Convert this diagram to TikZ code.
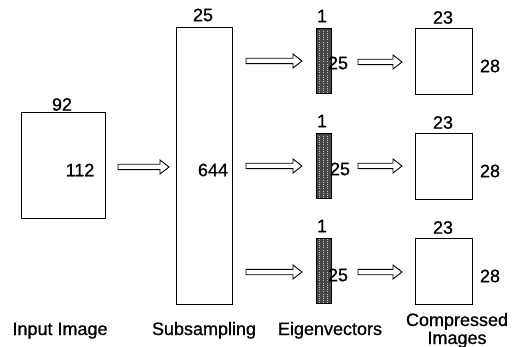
\documentclass[tikz,border=0pt]{standalone}
\usepackage{fontspec}
\setmainfont{Liberation Sans}[BoldFont=Liberation Sans, BoldFeatures={FakeBold=0.8}]
\usetikzlibrary{calc}
\begin{document}
\begin{tikzpicture}[x=1pt,y=-1pt,
  box/.style={draw, line width=1pt, inner sep=0pt, anchor=north west},
  bar/.style={box, fill=black!72,
    path picture={\foreach \dx in {-4,0,4}
      \draw[black!25, line width=0.9pt, dash pattern=on 1pt off 1.2pt]
        ([xshift=\dx pt]path picture bounding box.north) -- ([xshift=\dx pt]path picture bounding box.south);}},
  num/.style={font=\fontsize{18}{20}\selectfont\bfseries, inner sep=0pt},
  lbl/.style={font=\fontsize{18}{20}\selectfont\bfseries, inner sep=0pt, anchor=base},
  hollow/.style={line width=0.9pt, line join=miter,
    to path={let \p1=(\tikztostart), \p2=(\tikztotarget) in
      (\x1,\y1+2.7pt) -- (\x2-9pt,\y1+2.7pt) -- (\x2-9pt,\y1+7pt) -- (\x2,\y1)
      -- (\x2-9pt,\y1-7pt) -- (\x2-9pt,\y1-2.7pt) -- (\x1,\y1-2.7pt) -- cycle}},
]
\useasboundingbox (0,0) rectangle (516,347);

% input image
\node[box, minimum width=84.5pt, minimum height=105.5pt] (inp) at (20.5,112.5) {};
\node[num] (n92) at (62,104.5) {92};
\node[num] (n112) at (80,170) {112};

% subsampling
\node[box, minimum width=56pt, minimum height=277pt] (sub) at (176,27) {};
\node[num] (n25top) at (203,15) {25};
\node[num] (n644) at (213,170) {644};

\coordinate (a0s) at (118,167);
\coordinate (a0e) at (169,167);
\draw[hollow] (a0s) to (a0e);

% rows
\foreach \r/\off/\ya/\yb/\tx in {1/0/61/62/338, 2/105/166/166/340, 3/210/272/272/338}{
  \node[bar, minimum width=15pt, minimum height=65pt] (ev\r) at (315.5,28+\off) {};
  \node[num] (one\r) at (322,16+\off) {1};
  \node[num] (tf\r) at (\tx,63+\off+\r-1) {25};
  \node[box, minimum width=57pt, minimum height=66pt] (ci\r) at (415,28+\off) {};
  \node[num] (tt\r) at (443,17.5+\off) {23};
  \node[num] (te\r) at (490,66+\off) {28};
  \coordinate (l\r s) at (246,\ya);
  \coordinate (l\r e) at (302,\ya);
  \coordinate (r\r s) at (358,\yb);
  \coordinate (r\r e) at (402,\yb);
  \draw[hollow] (l\r s) to (l\r e);
  \draw[hollow] (r\r s) to (r\r e);
}

% captions
\node[lbl] (capin) at (60,335) {Input Image};
\node[lbl] (capsub) at (204,335) {Subsampling};
\node[lbl] (capev) at (330,335) {Eigenvectors};
\node[lbl] (capc1) at (457,326) {Compressed};
\node[lbl] (capc2) at (457,344) {Images};
\end{tikzpicture}
\end{document}
